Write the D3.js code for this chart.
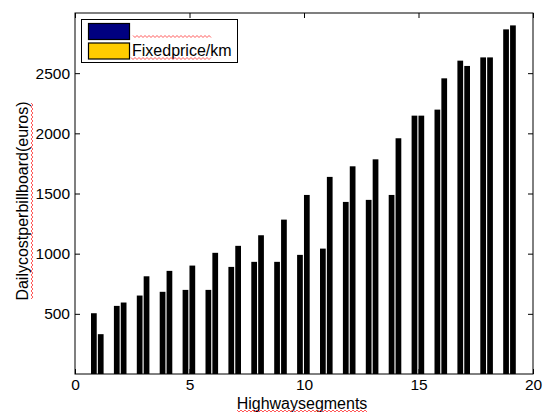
<!DOCTYPE html>
<html><head><meta charset="utf-8">
<script src="https://cdn.jsdelivr.net/npm/d3@7"></script>
<style>body{margin:0;background:#fff}svg{display:block}text{font-family:"Liberation Sans",Arial,sans-serif}</style>
</head><body><svg id="c" width="543" height="412"></svg>
<script>
const segments = [1,2,3,4,5,6,7,8,9,10,11,12,13,14,15,16,17,18,19];
const seriesA = [505,566,652,683,699,699,890,932,932,990,1042,1430,1447,1488,2147,2197,2604,2631,2864];
const seriesB = [331,594,812,857,901,1007,1065,1153,1283,1488,1638,1726,1784,1959,2147,2457,2560,2631,2897];
const seriesNames = ["", "Fixedprice/km"];
const seriesColors = ["#000080", "#ffcc00"];
const xTicks = [0,5,10,15,20];
const yTicks = [500,1000,1500,2000,2500];
const xLabel = "Highwaysegments";
const yLabel = "Dailycostperbillboard(euros)";

const svg = d3.select("#c");
const L=75,R=533,T=13,B=374;
const x = d3.scaleLinear().domain([0,20]).range([L,R]);
const y = d3.scaleLinear().domain([0,3000]).range([B,T]);
const bw = 0.25, off = 0.15;

const g = svg.append("g");
[[seriesA,-off],[seriesB,off]].forEach(([vals,o])=>{
  g.selectAll(null).data(segments).enter().append("rect")
    .attr("x", (d)=>x(d+o-bw/2)-0.6)
    .attr("width", x(bw)-x(0))
    .attr("y", (d,i)=>y(vals[i]))
    .attr("height", (d,i)=>y(0)-y(vals[i]))
    .attr("fill","#000");
});

// frame
svg.append("rect").attr("x",L).attr("y",T).attr("width",R-L).attr("height",B-T)
  .attr("fill","none").attr("stroke","#000").attr("stroke-width",1);

const fs = "15.5px";
// axes
const xb = svg.append("g").attr("transform",`translate(0,${B})`)
  .call(d3.axisBottom(x).tickValues(xTicks).tickSize(-5).tickPadding(5).tickFormat(d3.format("d")));
const xt = svg.append("g").attr("transform",`translate(0,${T})`)
  .call(d3.axisTop(x).tickValues(xTicks).tickSize(-5).tickFormat(""));
const yl = svg.append("g").attr("transform",`translate(${L},0)`)
  .call(d3.axisLeft(y).tickValues(yTicks).tickSize(-5).tickPadding(5).tickFormat(d3.format("d")));
const yr = svg.append("g").attr("transform",`translate(${R},0)`)
  .call(d3.axisRight(y).tickValues(yTicks).tickSize(-5).tickFormat(""));
[xb,xt,yl,yr].forEach(a=>{
  a.select(".domain").remove();
  a.selectAll("line").attr("stroke","#000");
  a.selectAll("text").attr("fill","#000").style("font-size",fs).attr("font-family",null);
});
xb.selectAll("text").attr("dy","0.71em");

// axis labels
svg.append("text").attr("x",302).attr("y",409).attr("text-anchor","middle")
  .style("font-size","16px").attr("fill","#000").text(xLabel);
svg.append("text").attr("transform","translate(28,201) rotate(-90)").attr("text-anchor","middle")
  .style("font-size","16px").attr("fill","#000").text(yLabel);

// legend
svg.append("rect").attr("x",81.5).attr("y",19.5).attr("width",156).attr("height",43)
  .attr("fill","#fff").attr("stroke","#000");
seriesColors.forEach((c,i)=>{
  svg.append("rect").attr("x",88.5).attr("y",23.5+i*19.5).attr("width",41).attr("height",16)
    .attr("fill",c).attr("stroke","#000").attr("stroke-width",1.2);
  svg.append("text").attr("x",132).attr("y",37.5+i*18).style("font-size","16px").attr("fill","#000").text(seriesNames[i]);
});

// spell-check squiggles
function squiggle(x0,y0,len,vertical){
  const pts=[];
  for(let k=0;k<=len;k+=2){ const w=(k/2)%2?2:0; pts.push(vertical?[x0+w,y0+k]:[x0+k,y0+w]); }
  svg.append("path").attr("d",d3.line()(pts)).attr("fill","none").attr("stroke","#ff3030").attr("stroke-width",0.8);
}
squiggle(133,35.5,78,false);
squiggle(131,57.5,80,false);
squiggle(237,410,131,false);
squiggle(31,103,197,true);
</script></body></html>
